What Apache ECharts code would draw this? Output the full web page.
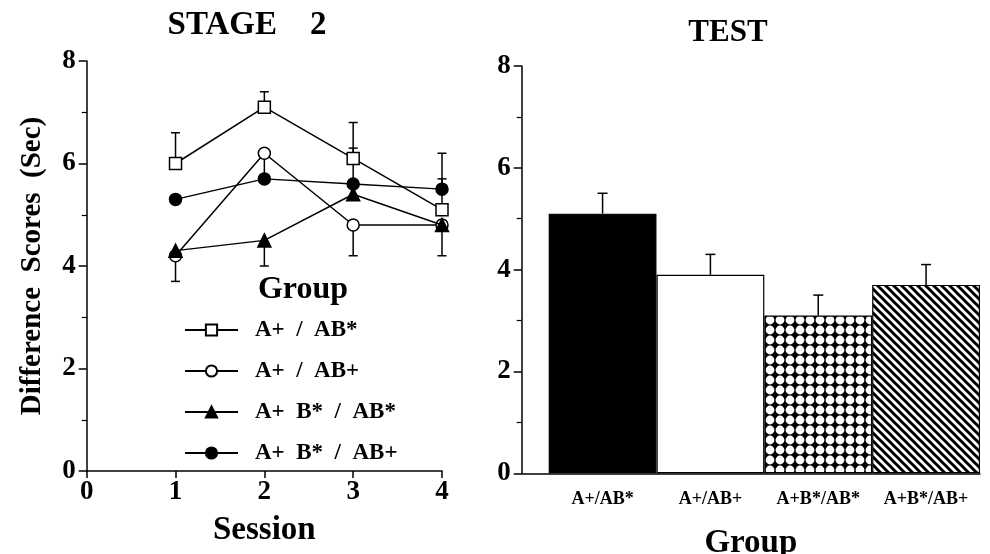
<!DOCTYPE html>
<html><head><meta charset="utf-8">
<script src="https://cdn.jsdelivr.net/npm/echarts@6/dist/echarts.min.js"></script>
<style>html,body{margin:0;padding:0;background:#fff}#c{width:990px;height:554px}</style>
</head><body><div id="c"></div>
<script>
// ---------- data ----------
const sessions = [1, 2, 3, 4];
const groupNames = ['A+  /  AB*', 'A+  /  AB+', 'A+  B*  /  AB*', 'A+  B*  /  AB+'];
const valsA_ABstar = [6.0, 7.1, 6.1, 5.1];
const valsA_ABplus = [4.2, 6.2, 4.8, 4.8];
const valsAB_ABstar = [4.3, 4.5, 5.4, 4.8];
const valsAB_ABplus = [5.3, 5.7, 5.6, 5.5];
// visible end of each error bar (null = not visible)
const errA_ABstar = [6.6, 7.4, 6.8, 5.7];
const errA_ABplus = [3.7, 5.7, 4.2, 4.2];
const errAB_ABstar = [null, 4.0, null, null];
const errAB_ABplus = [null, null, 6.3, 6.2];
const testCategories = ['A+/AB*', 'A+/AB+', 'A+B*/AB*', 'A+B*/AB+'];
const testMeans = [5.1, 3.9, 3.1, 3.7];
const testErrTops = [5.5, 4.3, 3.5, 4.1];

// ---------- patterns ----------
function checkerPattern() {
  const c = document.createElement('canvas'); c.width = 10; c.height = 10;
  const g = c.getContext('2d');
  g.fillStyle = '#000'; g.fillRect(0, 0, 10, 10);
  g.fillStyle = '#fff';
  [[0,0],[10,0],[0,10],[10,10]].forEach(p => { g.beginPath(); g.arc(p[0], p[1], 4.4, 0, Math.PI*2); g.fill(); });
  return c;
}
function stripePattern() {
  const c = document.createElement('canvas'); c.width = 8; c.height = 8;
  const g = c.getContext('2d');
  g.fillStyle = '#fff'; g.fillRect(0, 0, 8, 8);
  g.strokeStyle = '#000'; g.lineWidth = 3;
  for (let k = -1; k <= 1; k++) { g.beginPath(); g.moveTo(k*8 - 2, -2); g.lineTo(k*8 + 10, 10); g.stroke(); }
  return c;
}
const fills = ['#000', '#fff', {image: checkerPattern(), repeat: 'repeat'}, {image: stripePattern(), repeat: 'repeat'}];

const FONT = '"Liberation Serif", "Times New Roman", serif';
const chart = echarts.init(document.getElementById('c'), null, {renderer: 'canvas'});

function pairs(v) { return sessions.map((s, i) => [s, v[i]]); }
function errData(v, e) { const out = []; sessions.forEach((s, i) => { if (e[i] != null) out.push([s, v[i], e[i]]); }); return out; }

function errRender(capHalf) {
  return function (params, api) {
    const x = api.value(0), y0 = api.value(1), y1 = api.value(2);
    const p0 = api.coord([x, y0]), p1 = api.coord([x, y1]);
    return {type: 'group', children: [
      {type: 'line', shape: {x1: p0[0], y1: p0[1], x2: p1[0], y2: p1[1]}, style: {stroke: '#000', lineWidth: 1.5}},
      {type: 'line', shape: {x1: p1[0] - capHalf, y1: p1[1], x2: p1[0] + capHalf, y2: p1[1]}, style: {stroke: '#000', lineWidth: 1.5}}
    ]};
  };
}

const lineVals = [valsA_ABstar, valsA_ABplus, valsAB_ABstar, valsAB_ABplus];
const lineErr = [errA_ABstar, errA_ABplus, errAB_ABstar, errAB_ABplus];
const symbols = ['rect', 'circle', 'triangle', 'circle'];
const symFill = ['#fff', '#fff', '#000', '#000'];

const series = [];
lineVals.forEach((v, i) => {
  series.push({type: 'custom', xAxisIndex: 0, yAxisIndex: 0, renderItem: errRender(4.5), data: errData(v, lineErr[i]), z: 1, silent: true});
});
lineVals.forEach((v, i) => {
  series.push({
    name: groupNames[i], type: 'line', xAxisIndex: 0, yAxisIndex: 0, data: pairs(v),
    symbol: symbols[i], symbolSize: i === 2 ? 13 : 12, showAllSymbol: true,
    lineStyle: {color: '#000', width: 1.5}, itemStyle: {color: symFill[i], borderColor: '#000', borderWidth: 1.5},
    z: 3 + i, animation: false
  });
});
series.push({
  type: 'bar', xAxisIndex: 1, yAxisIndex: 1, barWidth: 107.8,
  data: testMeans.map((m, i) => ({value: [i + 0.75, m], itemStyle: {color: fills[i]}})),
  itemStyle: {borderColor: '#000', borderWidth: 1.2}, z: 2
});
series.push({type: 'custom', xAxisIndex: 1, yAxisIndex: 1, renderItem: errRender(5),
  data: testMeans.map((m, i) => [i + 0.75, m, testErrTops[i]]), z: 3, silent: true});

const axisLine = {show: true, lineStyle: {color: '#000', width: 1.5}};
const tickLabel = {color: '#000', fontFamily: FONT, fontWeight: 'bold', fontSize: 27};

chart.setOption({
  animation: false,
  backgroundColor: '#fff',
  grid: [
    {left: 86.7, right: 548, top: 61, bottom: 83, containLabel: false, outerBoundsMode: 'none'},
    {left: 521.7, right: 10, top: 66, bottom: 80.7, containLabel: false, outerBoundsMode: 'none'}
  ],
  xAxis: [
    {gridIndex: 0, type: 'value', min: 0, max: 4, interval: 1, axisLine, splitLine: {show: false},
     axisTick: {show: true, length: 7, lineStyle: {color: '#000', width: 1.5}},
     axisLabel: Object.assign({margin: 8}, tickLabel),
     name: 'Session', nameLocation: 'middle', nameGap: 43,
     nameTextStyle: {color: '#000', fontFamily: FONT, fontWeight: 'bold', fontSize: 33}},
    {gridIndex: 1, type: 'value', min: 0, max: 4.25, axisLine, splitLine: {show: false},
     axisTick: {show: false},
     axisLabel: {color: '#000', fontFamily: FONT, fontWeight: 'bold', fontSize: 18, margin: 17,
       customValues: [0.75, 1.75, 2.75, 3.75], formatter: v => testCategories[Math.round(v - 0.75)] || ''},
     name: 'Group', nameLocation: 'middle', nameGap: 54,
     nameTextStyle: {color: '#000', fontFamily: FONT, fontWeight: 'bold', fontSize: 33}}
  ],
  yAxis: [
    {gridIndex: 0, type: 'value', min: 0, max: 8, interval: 2, axisLine, splitLine: {show: false},
     axisTick: {show: true, length: 8, lineStyle: {color: '#000', width: 1.5}},
     minorTick: {show: true, splitNumber: 2, length: 5, lineStyle: {color: '#000', width: 1.2}},
     axisLabel: Object.assign({margin: 11}, tickLabel),
     name: 'Difference  Scores  (Sec)', nameLocation: 'middle', nameGap: 40, nameRotate: 90,
     nameTextStyle: {color: '#000', fontFamily: FONT, fontWeight: 'bold', fontSize: 29}},
    {gridIndex: 1, type: 'value', min: 0, max: 8, interval: 2, axisLine, splitLine: {show: false},
     axisTick: {show: true, length: 8, lineStyle: {color: '#000', width: 1.5}},
     minorTick: {show: true, splitNumber: 2, length: 5, lineStyle: {color: '#000', width: 1.2}},
     axisLabel: Object.assign({margin: 11}, tickLabel)}
  ],
  legend: {
    data: groupNames, orient: 'vertical', left: 179, top: 313, itemWidth: 53, itemHeight: 14, itemGap: 17,
    textStyle: {color: '#000', fontFamily: FONT, fontWeight: 'bold', fontSize: 23, lineHeight: 24, padding: [0, 0, 0, 12]},
    selectedMode: false
  },
  graphic: [
    {type: 'text', x: 247, y: 25, style: {text: 'STAGE    2', fill: '#000', font: 'bold 33px ' + FONT, textAlign: 'center', textVerticalAlign: 'middle'}},
    {type: 'text', x: 728, y: 33, style: {text: 'TEST', fill: '#000', font: 'bold 31px ' + FONT, textAlign: 'center', textVerticalAlign: 'middle'}},
    {type: 'text', x: 303, y: 290, style: {text: 'Group', fill: '#000', font: 'bold 32px ' + FONT, textAlign: 'center', textVerticalAlign: 'middle'}}
  ],
  series
});
</script></body></html>
